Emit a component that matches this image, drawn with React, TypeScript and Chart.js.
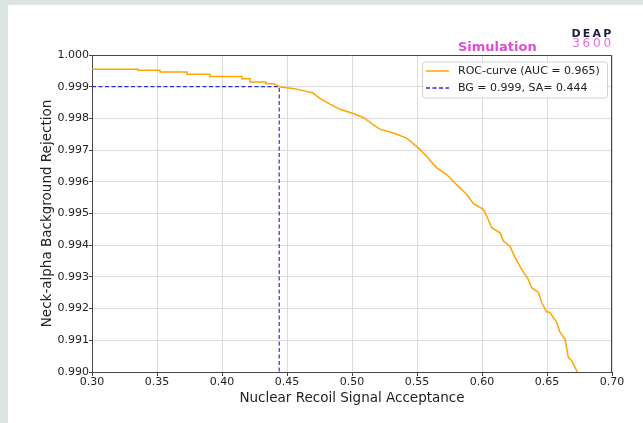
import React, { useEffect, useRef } from "react";
import { Chart, registerables } from "chart.js";

Chart.register(...registerables);

// ROC curve (signal acceptance, background rejection)
const rocX = [0.3, 0.3353, 0.3353, 0.3523, 0.3523, 0.3731, 0.3731, 0.3907, 0.3907, 0.4153, 0.4153, 0.4215, 0.4215, 0.4339, 0.4339, 0.44, 0.444, 0.4546, 0.4601, 0.47, 0.475, 0.483, 0.4907, 0.4998, 0.5087, 0.5163, 0.5215, 0.5318, 0.542, 0.551, 0.5575, 0.5652, 0.5728, 0.5805, 0.5883, 0.5934, 0.601, 0.6036, 0.6075, 0.6139, 0.6165, 0.6215, 0.6254, 0.6305, 0.6356, 0.6382, 0.6434, 0.6459, 0.6497, 0.6523, 0.6575, 0.66, 0.6639, 0.6664, 0.669, 0.6728, 0.6732];
const rocY = [0.99955, 0.99955, 0.99952, 0.99952, 0.99946, 0.99946, 0.99939, 0.99939, 0.99932, 0.99932, 0.99925, 0.99925, 0.99915, 0.99915, 0.99909, 0.99909, 0.999, 0.99894, 0.9989, 0.9988, 0.99864, 0.99845, 0.99829, 0.99817, 0.99803, 0.9978, 0.99766, 0.99754, 0.99738, 0.99707, 0.9968, 0.99644, 0.99623, 0.99591, 0.9956, 0.99531, 0.99513, 0.99492, 0.99455, 0.99439, 0.99413, 0.99397, 0.99361, 0.99324, 0.99292, 0.99266, 0.99251, 0.99219, 0.9919, 0.99188, 0.99156, 0.99125, 0.99104, 0.99046, 0.99036, 0.99004, 0.99];

// working point lines
const cutX = [0.3, 0.444, 0.444];
const cutY = [0.999, 0.999, 0.99];

const xTicks = [0.3, 0.35, 0.4, 0.45, 0.5, 0.55, 0.6, 0.65, 0.7];
const yTicks = [0.99, 0.991, 0.992, 0.993, 0.994, 0.995, 0.996, 0.997, 0.998, 0.999, 1.0];

const seriesLabels = ["ROC-curve (AUC = 0.965)", "BG = 0.999, SA= 0.444"];
const xTitle = "Nuclear Recoil Signal Acceptance";
const yTitle = "Neck-alpha Background Rejection";
const tagText = "Simulation";
const logoTop = "DEAP";
const logoBottom = "3600";

const ORANGE = "#ffa500";
const BLUE = "#2b2bd6";
const FONT = "'DejaVu Sans', sans-serif";

const decor = {
  id: "decor",
  beforeDraw(chart: any) {
    const { ctx, width, height } = chart;
    ctx.save();
    ctx.fillStyle = "#ffffff";
    ctx.fillRect(0, 0, width, height);
    ctx.fillStyle = "#dde5e3";
    ctx.fillRect(0, 0, 8, height);
    ctx.fillRect(0, 0, width, 5);
    ctx.restore();
  },
  afterDraw(chart: any) {
    const { ctx, chartArea: a } = chart;
    ctx.save();
    // top/right spines
    ctx.strokeStyle = "#444";
    ctx.lineWidth = 1;
    ctx.beginPath();
    ctx.moveTo(a.left, a.top + 0.5);
    ctx.lineTo(a.right - 0.5, a.top + 0.5);
    ctx.lineTo(a.right - 0.5, a.bottom);
    ctx.stroke();

    // legend
    const bx = a.right - 190;
    const by = a.top + 6.5;
    const bw = 185;
    const bh = 36;
    ctx.beginPath();
    ctx.roundRect(bx + 0.5, by + 0.5, bw, bh, 3);
    ctx.fillStyle = "rgba(255,255,255,0.85)";
    ctx.fill();
    ctx.strokeStyle = "#d0d0d0";
    ctx.stroke();
    const rows = [by + 9.5, by + 26.5];
    ctx.lineWidth = 1.5;
    ctx.strokeStyle = ORANGE;
    ctx.setLineDash([]);
    ctx.beginPath();
    ctx.moveTo(bx + 4, rows[0]);
    ctx.lineTo(bx + 27, rows[0]);
    ctx.stroke();
    ctx.strokeStyle = BLUE;
    ctx.setLineDash([4, 2.5]);
    ctx.beginPath();
    ctx.moveTo(bx + 4, rows[1]);
    ctx.lineTo(bx + 27, rows[1]);
    ctx.stroke();
    ctx.setLineDash([]);
    ctx.fillStyle = "#222";
    ctx.font = `11px ${FONT}`;
    ctx.textBaseline = "middle";
    ctx.textAlign = "left";
    ctx.fillText(seriesLabels[0], bx + 36, rows[0]);
    ctx.fillText(seriesLabels[1], bx + 36, rows[1]);

    // "Simulation" tag
    ctx.fillStyle = "#d84fd6";
    ctx.font = `bold 13px ${FONT}`;
    ctx.fillText(tagText, a.right - 154, a.top - 7);

    // DEAP 3600 logo
    ctx.textAlign = "center";
    ctx.font = `bold 11px ${FONT}`;
    ctx.fillStyle = "#1c1c3c";
    for (let i = 0; i < logoTop.length; i++) {
      ctx.fillText(logoTop[i], a.right - 36 + i * 10.4, a.top - 20.5);
    }
    ctx.font = `12px ${FONT}`;
    ctx.fillStyle = "#e26ee0";
    for (let i = 0; i < logoBottom.length; i++) {
      ctx.fillText(logoBottom[i], a.right - 36 + i * 10.4, a.top - 11.5);
    }
    ctx.restore();
  },
};

export default function App() {
  const ref = useRef<HTMLCanvasElement | null>(null);
  useEffect(() => {
    if (!ref.current) return;
    const chart = new Chart(ref.current, {
      type: "scatter",
      data: {
        datasets: [
          {
            label: seriesLabels[0],
            data: rocX.map((x, i) => ({ x, y: rocY[i] })),
            showLine: true,
            borderColor: ORANGE,
            borderWidth: 1.5,
            pointRadius: 0,
            tension: 0,
          },
          {
            label: seriesLabels[1],
            data: cutX.map((x, i) => ({ x, y: cutY[i] })),
            showLine: true,
            borderColor: BLUE,
            borderWidth: 1.2,
            borderDash: [4, 2.5],
            pointRadius: 0,
            tension: 0,
          },
        ],
      },
      options: {
        animation: false,
        responsive: false,
        devicePixelRatio: 1,
        layout: { padding: { top: 55, right: 31, left: 0, bottom: 0 } },
        plugins: { legend: { display: false }, tooltip: { enabled: false } },
        scales: {
          x: {
            type: "linear",
            min: 0.3,
            max: 0.7,
            afterBuildTicks: (s: any) => {
              s.ticks = xTicks.map((v) => ({ value: v }));
            },
            afterFit: (s: any) => {
              s.height = 51;
            },
            ticks: {
              callback: (v: any) => Number(v).toFixed(2),
              font: { family: FONT, size: 11 },
              color: "#222",
              padding: 0,
              maxRotation: 0,
              autoSkip: false,
            },
            grid: { color: "#dcdcdc", tickColor: "#444", tickLength: 4, lineWidth: 1 },
            border: { color: "#444", width: 1 },
            title: {
              display: true,
              text: xTitle,
              font: { family: FONT, size: 13.5, lineHeight: 1.2 },
              color: "#222",
              padding: { top: 0, bottom: 16 },
            },
          },
          y: {
            type: "linear",
            min: 0.99,
            max: 1.0,
            afterBuildTicks: (s: any) => {
              s.ticks = yTicks.map((v) => ({ value: v }));
            },
            afterFit: (s: any) => {
              s.width = 92;
            },
            ticks: {
              callback: (v: any) => Number(v).toFixed(3),
              font: { family: FONT, size: 11 },
              color: "#222",
              padding: 0,
              autoSkip: false,
            },
            grid: { color: "#dcdcdc", tickColor: "#444", tickLength: 3, lineWidth: 1 },
            border: { color: "#444", width: 1 },
            title: {
              display: true,
              text: yTitle,
              font: { family: FONT, size: 13.5, lineHeight: 1.2 },
              color: "#222",
              padding: { top: 39, bottom: 0 },
            },
          },
        },
      },
      plugins: [decor],
    });
    return () => chart.destroy();
  }, []);
  return (
    <div style={{ position: "fixed", left: 0, top: 0, width: 643, height: 423 }}>
      <canvas ref={ref} width={643} height={423} />
    </div>
  );
}
